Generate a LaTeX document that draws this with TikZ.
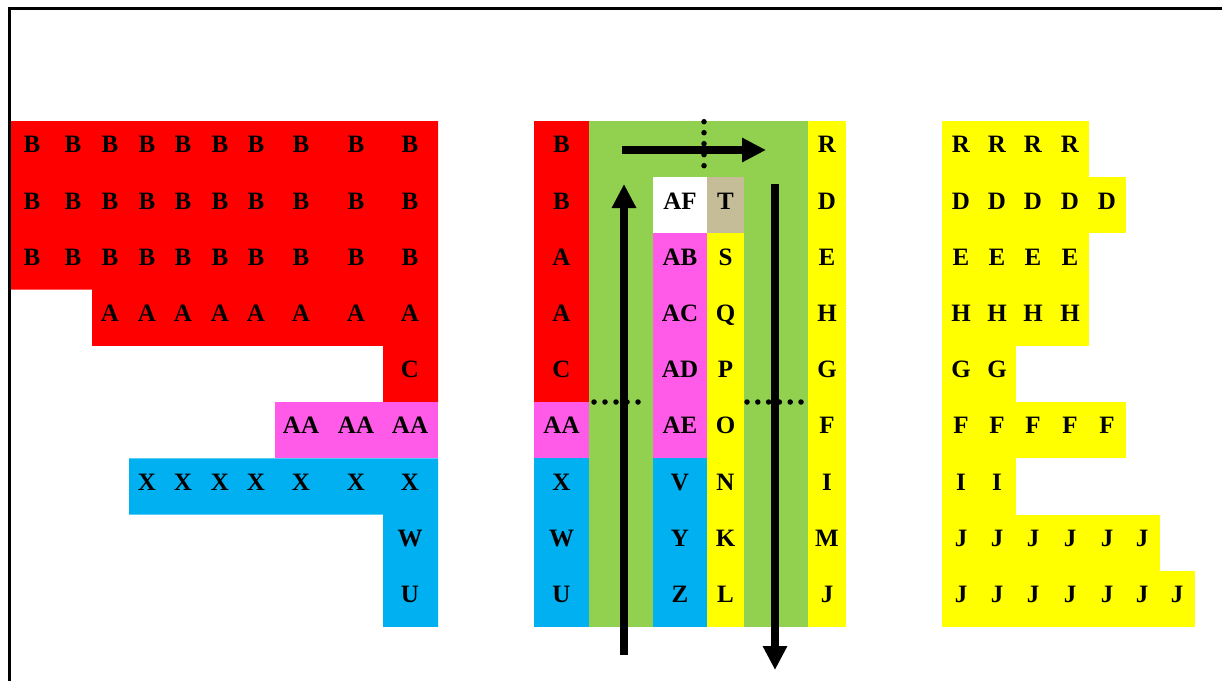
\documentclass[tikz,border=0pt]{standalone}
\usepackage{fontspec}
\setmainfont{Liberation Serif}
\usetikzlibrary{arrows.meta}
\definecolor{cRed}{HTML}{FF0000}
\definecolor{cPink}{HTML}{FF5BE8}
\definecolor{cBlue}{HTML}{00B0F0}
\definecolor{cGreen}{HTML}{92D050}
\definecolor{cYellow}{HTML}{FFFF00}
\definecolor{cTan}{HTML}{C4BD97}
% row height and text baseline helper
\def\rh{56.22}
\newcommand\cell[4]{\node[lbl] (#1) at (#2,{121+(#3)*\rh+31.8}) {#4};}
\begin{document}
\begin{tikzpicture}[x=1pt,y=-1pt,
  lbl/.style={font=\fontsize{25}{26}\selectfont\bfseries, inner sep=0pt, anchor=base},
  bigarrow/.style={line width=8pt, -{Triangle[length=24pt,width=23pt]}},
  dots/.style={line width=5.5pt, line cap=round, dash pattern=on 0pt off 11pt},
  dotsb/.style={line width=5.5pt, line cap=round, dash pattern=on 0pt off 10.8pt}]
\useasboundingbox (0,0) rectangle (1222,681);

% ---------- left block ----------
\fill[cRed] (9,121) -- (438,121) -- (438,{121+5*\rh}) -- (383,{121+5*\rh})
  -- (383,{121+4*\rh}) -- (92,{121+4*\rh}) -- (92,{121+3*\rh}) -- (9,{121+3*\rh}) -- cycle;
\fill[cPink] (275,{121+5*\rh}) rectangle (438,{121+6*\rh});
\fill[cBlue] (129,{121+6*\rh}) -- (438,{121+6*\rh}) -- (438,{121+9*\rh}) -- (383,{121+9*\rh})
  -- (383,{121+7*\rh}) -- (129,{121+7*\rh}) -- cycle;

\foreach \r in {0,1,2}
  \foreach \x [count=\c] in {32,73,110,147,183,220,256,301,356,410}
    {\cell{lb-\r-\c}{\x}{\r}{B}}
\foreach \x [count=\c] in {110,147,183,220,256,301,356,410}
  {\cell{la-\c}{\x}{3}{A}}
\cell{lc}{410}{4}{C}
\foreach \x [count=\c] in {301,356,410}
  {\cell{laa-\c}{\x}{5}{AA}}
\foreach \x [count=\c] in {147,183,220,256,301,356,410}
  {\cell{lx-\c}{\x}{6}{X}}
\cell{lw}{410}{7}{W}
\cell{lu}{410}{8}{U}

% ---------- middle block ----------
\fill[cRed] (534,121) rectangle (589,{121+5*\rh});
\fill[cPink] (534,{121+5*\rh}) rectangle (589,{121+6*\rh});
\fill[cBlue] (534,{121+6*\rh}) rectangle (589,{121+9*\rh});
\fill[cGreen] (589,121) rectangle (808,{121+9*\rh});
\fill[white] (653,{121+\rh}) rectangle (707,{121+2*\rh});
\fill[cTan] (707,{121+\rh}) rectangle (744,{121+2*\rh});
\fill[cPink] (653,{121+2*\rh}) rectangle (707,{121+6*\rh});
\fill[cBlue] (653,{121+6*\rh}) rectangle (707,{121+9*\rh});
\fill[cYellow] (707,{121+2*\rh}) rectangle (744,{121+9*\rh});
\fill[cYellow] (808,121) rectangle (846,{121+9*\rh});

\foreach \t [count=\i from 0] in {B,B,A,A,C,AA,X,W,U}
  {\cell{ma-\i}{561.5}{\i}{\t}}
\foreach \t [count=\i from 1] in {AF,AB,AC,AD,AE,V,Y,Z}
  {\cell{mb-\i}{680}{\i}{\t}}
\foreach \t [count=\i from 1] in {T,S,Q,P,O,N,K,L}
  {\cell{mc-\i}{725.5}{\i}{\t}}
\foreach \t [count=\i from 0] in {R,D,E,H,G,F,I,M,J}
  {\cell{md-\i}{827}{\i}{\t}}

% dotted markers
\coordinate (dv1) at (704,121.7);  \coordinate (dv2) at (704,176.7);
\coordinate (dl1) at (594,402);    \coordinate (dl2) at (649,402);
\coordinate (dr1) at (747,402);    \coordinate (dr2) at (801,402);
\draw[dots] (dv1) -- (dv2);
\draw[dots] (dl1) -- (dl2);
\draw[dotsb] (dr1) -- (dr2);

% flow arrows
\coordinate (upS) at (624,655);  \coordinate (upE) at (624,184);
\coordinate (rtS) at (622,150);  \coordinate (rtE) at (766,150);
\coordinate (dnS) at (775,184);  \coordinate (dnE) at (775,670);
\draw[bigarrow] (upS) -- (upE);
\draw[bigarrow] (rtS) -- (rtE);
\draw[bigarrow] (dnS) -- (dnE);

% ---------- right block ----------
\foreach \w [count=\i from 0] in {1089,1126,1089,1089,1016,1126,1016,1160,1195}
  \fill[cYellow] (942,{121+\i*\rh}) rectangle (\w,{121+(\i+1)*\rh});
\foreach \t/\n [count=\i from 0] in {R/4,D/5,E/4,H/4,G/2,F/5,I/2,J/6,J/7}
  \foreach \x [count=\c] in {961,997,1033,1070,1107,1142,1177}
    {\ifnum\c>\n\else\cell{r-\i-\c}{\x}{\i}{\t}\fi}

% frame
\draw[line width=3pt] (9,681) -- (9,8) -- (1222,8);
\end{tikzpicture}
\end{document}
